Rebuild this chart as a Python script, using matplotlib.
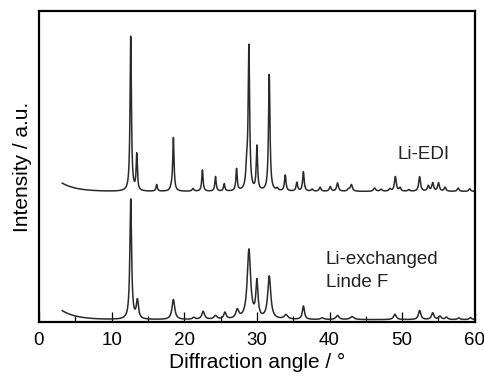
import numpy as np
import matplotlib.pyplot as plt

plt.rcParams['font.family'] = ['Liberation Sans', 'DejaVu Sans']

# Peak lists: position (deg), height (a.u.), FWHM (deg)
edi_pos = [12.63, 13.46, 16.2, 18.2, 18.5, 21.2, 22.5, 24.3, 25.5, 27.2, 28.6, 28.9,
           30.0, 31.7, 32.8, 33.9, 35.5, 36.4, 37.6, 38.7, 40.1, 41.1, 42.6, 43.0,
           46.2, 47.1, 48.3, 49.06, 49.7, 50.9, 52.4, 53.6, 54.2, 55.0, 55.9, 57.7, 59.3]
edi_h = [468, 108, 20, 8, 160, 8, 64, 44, 22, 66, 60, 428,
         132, 350, 7, 48, 26, 58, 6, 12, 14, 25, 6, 20,
         10, 6, 7, 44, 10, 5, 44, 16, 25, 25, 12, 10, 8]
edi_w = [0.22, 0.2, 0.22, 0.3, 0.22, 0.3, 0.22, 0.22, 0.22, 0.22, 0.3, 0.24,
         0.22, 0.24, 0.3, 0.25, 0.25, 0.25, 0.3, 0.3, 0.3, 0.3, 0.3, 0.35,
         0.35, 0.35, 0.35, 0.3, 0.3, 0.3, 0.3, 0.3, 0.3, 0.3, 0.3, 0.3, 0.3]
edi_base = 392
edi_bg = 25

lin_pos = [12.63, 13.55, 18.5, 21.3, 22.6, 24.3, 25.6, 27.3, 28.9, 30.0, 31.7,
           34.0, 36.4, 39.0, 41.1, 43.1, 49.0, 52.4, 54.2, 55.2, 56.1, 57.8, 59.4]
lin_h = [362, 55, 60, 6, 24, 11, 20, 26, 208, 108, 128,
         13, 40, 5, 12, 9, 16, 27, 20, 10, 7, 5, 6]
lin_w = [0.28, 0.35, 0.45, 0.4, 0.45, 0.5, 0.4, 0.5, 0.55, 0.35, 0.5,
         0.6, 0.35, 0.5, 0.5, 0.6, 0.45, 0.4, 0.4, 0.4, 0.4, 0.4, 0.4]
lin_base = 7
lin_bg = 27

x = np.arange(3.2, 60.0, 0.02)


def pattern(pos, h, w, base, bg):
    y = base + bg * np.exp(-(x - 3.2) / 2.0)
    for c, a, fw in zip(pos, h, w):
        y = y + a / (1 + ((x - c) / (fw / 2)) ** 2)
    return y


fig = plt.figure(figsize=(4.85, 3.8), dpi=100)
ax = fig.add_axes([0.0804, 0.1526, 0.8986, 0.8184])

ax.plot(x, pattern(edi_pos, edi_h, edi_w, edi_base, edi_bg), color='#2a2a2a', lw=1.1)
ax.plot(x, pattern(lin_pos, lin_h, lin_w, lin_base, lin_bg), color='#2a2a2a', lw=1.1)

ax.text(49.3, 502, 'Li-EDI', fontsize=13.5, va='center', color='#222222')
ax.text(39.5, 187, 'Li-exchanged', fontsize=13.5, va='center', color='#222222')
ax.text(39.5, 119, 'Linde F', fontsize=13.5, va='center', color='#222222')

ax.set_xlim(0, 60)
ax.set_ylim(0, 934)
ax.set_xticks(np.arange(0, 61, 10))
ax.set_xticks(np.arange(5, 60, 10), minor=True)
ax.set_yticks([])
ax.tick_params(axis='x', which='major', direction='in', length=7, width=0.9,
               labelsize=13.5, pad=7)
ax.tick_params(axis='x', which='minor', direction='in', length=4.3, width=0.9)
for s in ax.spines.values():
    s.set_linewidth(1.6)

ax.set_xlabel('Diffraction angle / °', fontsize=15, labelpad=3)
ax.set_ylabel('Intensity / a.u.', fontsize=15, labelpad=5)

fig.savefig('out.png', dpi=100)
